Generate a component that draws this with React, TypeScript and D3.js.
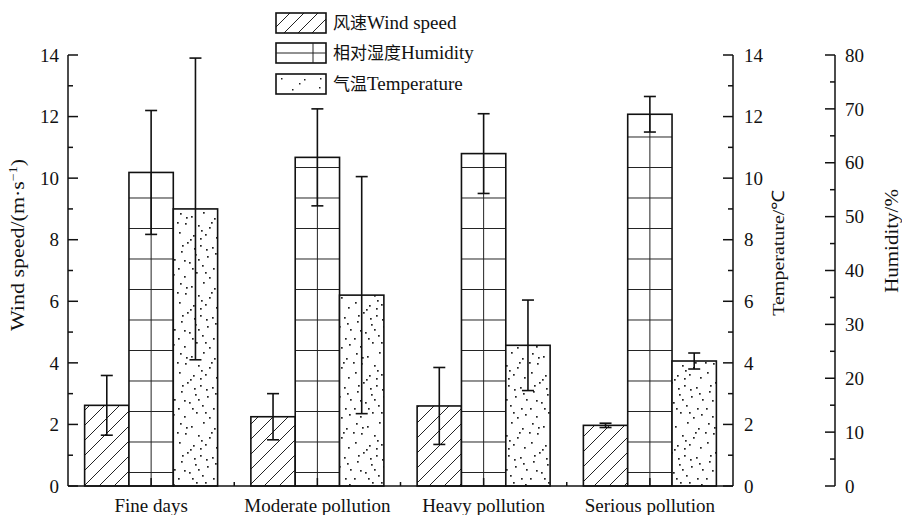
import React from 'react';
import * as d3 from 'd3';

const categories = ['Fine days', 'Moderate pollution', 'Heavy pollution', 'Serious pollution'];
const windSpeed = [2.62, 2.25, 2.6, 1.97];
const windErr = [0.97, 0.75, 1.25, 0.07];
const humidity = [58.2, 61.0, 61.7, 69.0];
const humidityErr = [11.5, 9.0, 7.4, 3.3];
const temperature = [9.0, 6.2, 4.57, 4.06];
const temperatureErr = [4.9, 3.85, 1.47, 0.26];
const series = ['wind', 'humidity', 'temperature'];
const leftTicks = [0, 2, 4, 6, 8, 10, 12, 14];
const humTicks = [0, 10, 20, 30, 40, 50, 60, 70, 80];
const legendCn = ['风速', '相对湿度', '气温'];
const legendEn = ['Wind speed', 'Humidity', 'Temperature'];

const W = 902;
const H = 515;
const SERIF = "'Liberation Serif', 'Times New Roman', serif";
const CJK = "'Noto Sans CJK SC', sans-serif";

// texture dots for the temperature fill (pattern tile, not data)
const dots = [
  [4, 3], [15, 6], [27, 2], [38, 8], [9, 13], [22, 15], [33, 17], [3, 22], [17, 25],
  [29, 24], [40, 27], [11, 32], [24, 35], [36, 37], [5, 41], [19, 44], [31, 46],
  [42, 49], [13, 52], [26, 55], [2, 58], [37, 58], [20, 62], [8, 66], [33, 67],
  [10, 7], [35, 12], [25, 20], [14, 29], [6, 35], [30, 39], [39, 43], [22, 49],
  [8, 50], [16, 58], [29, 62], [41, 64], [24, 28], [1, 12], [18, 38],
];

const App = () => {
  const left = 68;
  const right = 733;
  const humAxisX = 835;
  const top = 55;
  const bottom = 486;

  const x = d3.scaleBand().domain(categories).range([left, right]).padding(0);
  const xs = d3.scaleBand().domain(series).range([0, x.bandwidth()]).paddingInner(0).paddingOuter(0.375);
  const yWind = d3.scaleLinear().domain([0, 14]).range([bottom, top]);
  const yTemp = d3.scaleLinear().domain([0, 14]).range([bottom, top]);
  const yHum = d3.scaleLinear().domain([0, 80]).range([bottom, top]);

  const bw = xs.bandwidth();
  const minor14 = d3.range(1, 14, 2);
  const minor80 = d3.range(5, 80, 10);

  const bars = categories.flatMap((c, i) => [
    { c, s: 'wind', v: windSpeed[i], e: windErr[i], y: yWind, fill: 'url(#hatch)' },
    { c, s: 'humidity', v: humidity[i], e: humidityErr[i], y: yHum, fill: 'url(#grid)' },
    { c, s: 'temperature', v: temperature[i], e: temperatureErr[i], y: yTemp, fill: 'url(#dots)' },
  ]);

  const legendFills = ['url(#hatchL)', '#fff', 'url(#dotsL)'];
  const legendY = [13, 43, 74];

  return (
    <svg width={W} height={H} style={{ position: 'absolute', left: 0, top: 0, display: 'block', background: '#fff' }}
      fontFamily={SERIF}>
      <defs>
        <pattern id="hatch" patternUnits="userSpaceOnUse" width={15} height={15}>
          <path d="M-2,2 L2,-2 M0,15 L15,0 M13,17 L17,13" stroke="#222" strokeWidth={1} />
        </pattern>
        <pattern id="hatchL" patternUnits="userSpaceOnUse" width={14} height={14} x={276} y={13}>
          <path d="M-2,2 L2,-2 M0,14 L14,0 M12,16 L16,12" stroke="#222" strokeWidth={1} />
        </pattern>
        <pattern id="grid" patternUnits="userSpaceOnUse" width={20} height={30.5} y={472 - 30.5 * 16}>
          <rect width={20} height={30.5} fill="#fff" />
          <line x1={0} x2={20} y1={0.5} y2={0.5} stroke="#222" strokeWidth={1} />
        </pattern>
        <pattern id="dots" patternUnits="userSpaceOnUse" width={44} height={70}>
          <rect width={44} height={70} fill="#fff" />
          {dots.map(([dx, dy], k) => (
            <rect key={k} x={dx} y={dy} width={1.7} height={1.7} fill="#222" />
          ))}
        </pattern>
        <pattern id="dotsL" patternUnits="userSpaceOnUse" width={50} height={20} x={276} y={74}>
          <rect width={50} height={20} fill="#fff" />
          <rect x={5} y={4} width={1.5} height={1.5} fill="#222" />
          <rect x={23} y={9} width={1.5} height={1.5} fill="#222" />
          <rect x={28} y={5} width={1.5} height={1.5} fill="#222" />
          <rect x={44} y={4} width={1.5} height={1.5} fill="#222" />
          <rect x={43} y={13} width={1.5} height={1.5} fill="#222" />
          <rect x={16} y={15} width={1.5} height={1.5} fill="#222" />
        </pattern>
      </defs>

      {/* bars */}
      {bars.map((b, k) => {
        const bx = (x(b.c) as number) + (xs(b.s) as number);
        const by = b.y(b.v);
        return (
          <g key={k}>
            <rect x={bx} y={by} width={bw} height={bottom - by} fill={b.fill} stroke="#111" strokeWidth={1.6} />
            {b.s === 'humidity' && (
              <line x1={bx + bw / 2} x2={bx + bw / 2} y1={by} y2={bottom} stroke="#222" strokeWidth={1} />
            )}
          </g>
        );
      })}

      {/* error bars */}
      {bars.map((b, k) => {
        const cx = (x(b.c) as number) + (xs(b.s) as number) + bw / 2;
        const y1 = b.y(b.v + b.e);
        const y2 = b.y(b.v - b.e);
        return (
          <g key={'e' + k} stroke="#111" strokeWidth={1.6}>
            <line x1={cx} x2={cx} y1={y1} y2={y2} />
            <line x1={cx - 6} x2={cx + 6} y1={y1} y2={y1} />
            <line x1={cx - 6} x2={cx + 6} y1={y2} y2={y2} />
          </g>
        );
      })}

      {/* bottom axis */}
      <g stroke="#111" strokeWidth={1.5}>
        <line x1={left} x2={right} y1={bottom} y2={bottom} />
        {categories.map((c) => {
          const cx = (x(c) as number) + x.bandwidth() / 2;
          return <line key={c} x1={cx} x2={cx} y1={bottom} y2={bottom - 8} />;
        })}
        {categories.slice(1).map((c) => (
          <line key={'b' + c} x1={x(c) as number} x2={x(c) as number} y1={bottom} y2={bottom - 4} />
        ))}
      </g>
      {categories.map((c) => (
        <text key={'l' + c} x={(x(c) as number) + x.bandwidth() / 2} y={512} textAnchor="middle" fontSize={19} fill="#111">
          {c}
        </text>
      ))}

      {/* left axis */}
      <g stroke="#111" strokeWidth={1.5}>
        <line x1={left} x2={left} y1={top} y2={bottom} />
        {leftTicks.map((t) => (
          <line key={t} x1={left} x2={left + 10} y1={yWind(t)} y2={yWind(t)} />
        ))}
        {minor14.map((t) => (
          <line key={'m' + t} x1={left} x2={left + 5} y1={yWind(t)} y2={yWind(t)} />
        ))}
      </g>
      {leftTicks.map((t) => (
        <text key={t} x={59} y={yWind(t)} dy="0.35em" textAnchor="end" fontSize={19} fill="#111">{t}</text>
      ))}

      {/* temperature axis */}
      <g stroke="#111" strokeWidth={1.5}>
        <line x1={right} x2={right} y1={top} y2={bottom} />
        {leftTicks.map((t) => (
          <line key={t} x1={right} x2={right - 10} y1={yTemp(t)} y2={yTemp(t)} />
        ))}
        {minor14.map((t) => (
          <line key={'m' + t} x1={right} x2={right - 5} y1={yTemp(t)} y2={yTemp(t)} />
        ))}
      </g>
      {leftTicks.map((t) => (
        <text key={t} x={744} y={yTemp(t)} dy="0.35em" textAnchor="start" fontSize={19} fill="#111">{t}</text>
      ))}

      {/* humidity axis */}
      <g stroke="#111" strokeWidth={1.5}>
        <line x1={humAxisX} x2={humAxisX} y1={top} y2={bottom} />
        {humTicks.map((t) => (
          <line key={t} x1={humAxisX} x2={humAxisX - 10} y1={yHum(t)} y2={yHum(t)} />
        ))}
        {minor80.map((t) => (
          <line key={'m' + t} x1={humAxisX} x2={humAxisX - 5} y1={yHum(t)} y2={yHum(t)} />
        ))}
      </g>
      {humTicks.map((t) => (
        <text key={t} x={845} y={yHum(t)} dy="0.35em" textAnchor="start" fontSize={19} fill="#111">{t}</text>
      ))}

      {/* axis titles */}
      <g transform="translate(24,245) scale(0.85,1) rotate(-90)">
        <text textAnchor="middle" fontSize={22} fill="#111">
          Wind speed/(m·s<tspan dy={-8} fontSize={14}>−1</tspan><tspan dy={8}>)</tspan>
        </text>
      </g>
      <g transform="translate(784,253) scale(0.85,1) rotate(-90)">
        <text textAnchor="middle" fontSize={20} fill="#111">Temperature/℃</text>
      </g>
      <g transform="translate(898,241) scale(0.85,1) rotate(-90)">
        <text textAnchor="middle" fontSize={21} fill="#111">Humidity/%</text>
      </g>

      {/* legend */}
      {legendEn.map((en, i) => (
        <g key={en}>
          <rect x={276} y={legendY[i]} width={50} height={20} fill={legendFills[i]} stroke="#111" strokeWidth={1.6} />
          {i === 1 && (
            <g stroke="#222" strokeWidth={1}>
              <line x1={276} x2={326} y1={legendY[i] + 10} y2={legendY[i] + 10} />
              <line x1={313} x2={313} y1={legendY[i]} y2={legendY[i] + 20} />
            </g>
          )}
          <text x={333} y={legendY[i] + 16} fontSize={19} fill="#111">
            <tspan fontFamily={CJK} fontSize={17}>{legendCn[i]}</tspan>
            <tspan fontFamily={SERIF}>{en}</tspan>
          </text>
        </g>
      ))}
    </svg>
  );
};

export default App;
